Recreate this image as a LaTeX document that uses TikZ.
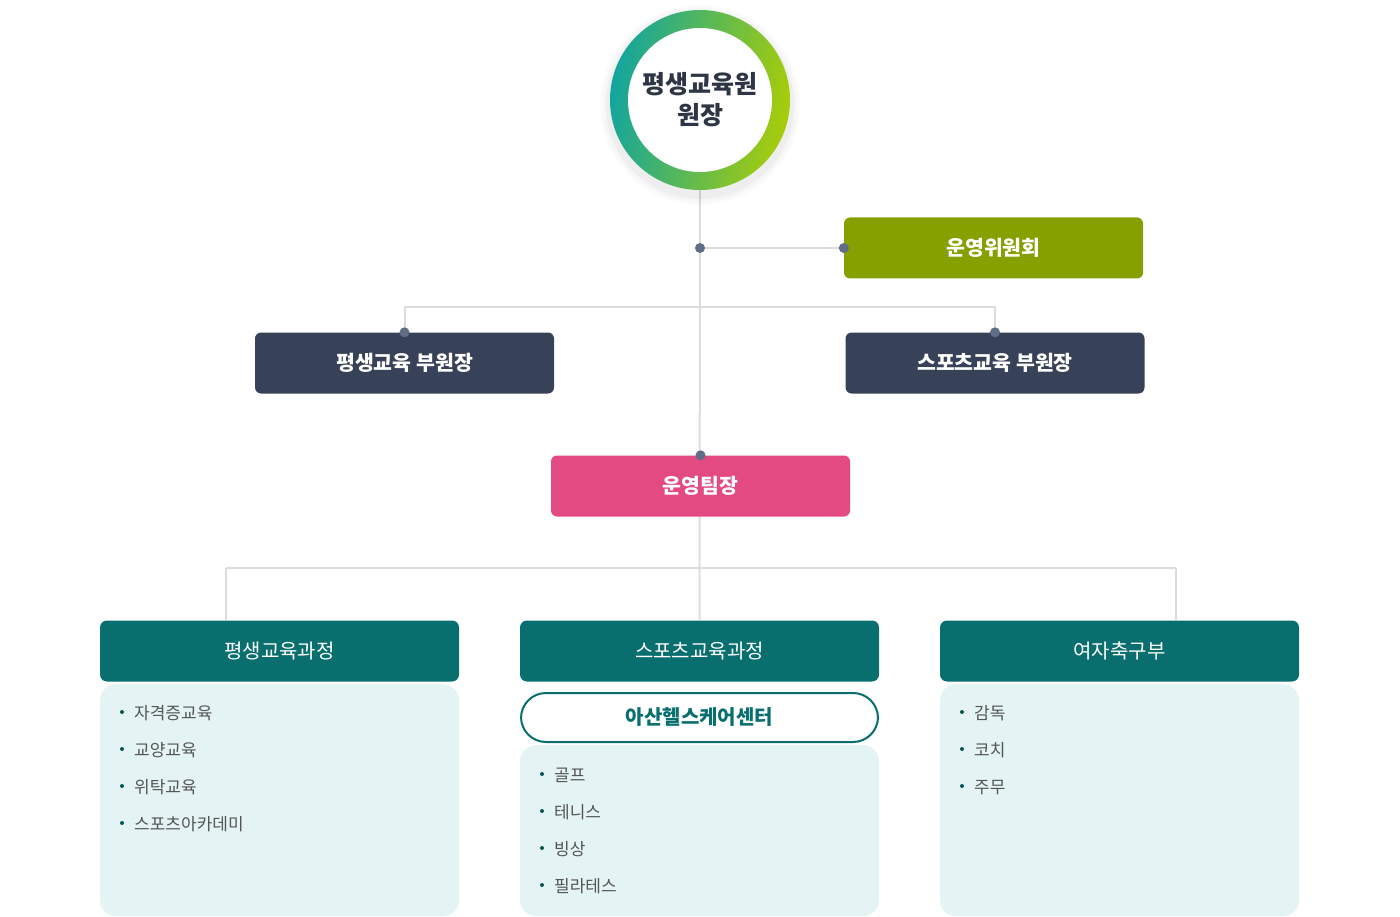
\documentclass[tikz,border=0pt]{standalone}
\usepackage{fontspec}
\setmainfont{Noto Sans CJK KR}
\usetikzlibrary{positioning,backgrounds}

\definecolor{ringteal}{HTML}{12A59E}
\definecolor{ringlime}{HTML}{A9CD08}
\definecolor{linegray}{HTML}{DCDCDC}
\definecolor{dotgray}{HTML}{5F6E86}
\definecolor{councilgreen}{HTML}{86A000}
\definecolor{vicenavy}{HTML}{374157}
\definecolor{leadpink}{HTML}{E44A82}
\definecolor{courseteal}{HTML}{086E6E}
\definecolor{listpale}{HTML}{E4F3F3}
\definecolor{itemgray}{HTML}{555555}
\definecolor{chieftext}{HTML}{2E3545}

\tikzset{
  conn/.style={draw=linegray, line width=2pt},
  jdot/.style={fill=dotgray},
  rolebox/.style={rectangle, rounded corners=6pt, minimum width=299pt, minimum height=61pt,
    inner sep=0pt, text=white, font=\bfseries\fontsize{20.5}{24}\selectfont},
  coursebox/.style={rectangle, rounded corners=7pt, minimum width=359pt, minimum height=61pt,
    inner sep=0pt, fill=courseteal, text=white, font=\fontsize{20}{24}\selectfont},
  listbox/.style={rectangle, rounded corners=16pt, fill=listpale, minimum width=359pt,
    inner sep=0pt, anchor=north},
  itemtxt/.style={anchor=west, inner sep=0pt, text=itemgray, font=\fontsize{17}{20}\selectfont},
  bullet/.style={fill=courseteal!80!black}
}

\begin{document}
\begin{tikzpicture}[x=1pt,y=-1pt]
\useasboundingbox (0,0) rectangle (1400,917);

% soft shadow under the top circle
\foreach \r/\o in {100/0.015,97/0.02,94/0.03}
  \fill[black,opacity=\o] (700,105) circle (\r);

% top: head of the institute
\node[circle, minimum size=180pt, inner sep=0pt, left color=ringteal, right color=ringlime,
  shading angle=80] (ring) at (700,100) {};
\node[circle, fill=white, minimum size=144pt, inner sep=0pt, align=center, text=chieftext,
  font=\bfseries\fontsize{25}{31}\selectfont] (chief) at (ring.center) {평생교육원\\원장};

% boxes
\node[rolebox, fill=councilgreen] (council) at (993.5,248) {운영위원회};
\node[rolebox, fill=vicenavy] (vice1) at (404.5,363) {평생교육 부원장};
\node[rolebox, fill=vicenavy] (vice2) at (995,363) {스포츠교육 부원장};
\node[rolebox, fill=leadpink] (lead) at (700.5,486) {운영팀장};

\node[coursebox] (course1) at (279.5,651) {평생교육과정};
\node[coursebox] (course2) at (699.5,651) {스포츠교육과정};
\node[coursebox] (course3) at (1119.5,651) {여자축구부};

\node[listbox, minimum height=232pt] (list1) at (279.5,684) {};
\node[rectangle, rounded corners=25pt, draw=courseteal, line width=2pt, fill=white,
  minimum width=357pt, minimum height=49pt, inner sep=0pt, text=courseteal,
  font=\bfseries\fontsize{20}{24}\selectfont] (center) at (699.5,717.5) {아산헬스케어센터};
\node[listbox, minimum height=171pt] (list2) at (699.5,745) {};
\node[listbox, minimum height=232pt] (list3) at (1119.5,684) {};

% connectors
\coordinate (j1) at (700,248);
\coordinate (bar1) at (700,307);
\coordinate (bl) at (226,568);
\coordinate (br) at (1176,568);
\begin{scope}[on background layer]
\draw[conn] (ring.south) -- (course2.north);
\draw[conn] (j1) -- (council.west);
\draw[conn] (vice1.north) |- (bar1) -| (vice2.north);
\draw[conn] (bl) -- (br);
\draw[conn] (bl) -- (bl |- course1.north);
\draw[conn] (br) -- (br |- course3.north);
\end{scope}

\fill[jdot] (j1) circle (5pt);
\fill[jdot] (council.west) circle (5pt);
\fill[jdot] (vice1.north) circle (5pt);
\fill[jdot] (vice2.north) circle (5pt);
\fill[jdot] (lead.north) circle (5pt);

% lists
\foreach \t [count=\i] in {자격증교육,교양교육,위탁교육,스포츠아카데미} {
  \fill[bullet] (122,675+37*\i) circle (2pt);
  \node[itemtxt] (a\i) at (134,676.5+37*\i) {\t};
}
\foreach \t [count=\i] in {골프,테니스,빙상,필라테스} {
  \fill[bullet] (542,737+37*\i) circle (2pt);
  \node[itemtxt] (b\i) at (554,738.5+37*\i) {\t};
}
\foreach \t [count=\i] in {감독,코치,주무} {
  \fill[bullet] (962,675+37*\i) circle (2pt);
  \node[itemtxt] (c\i) at (974,676.5+37*\i) {\t};
}
\end{tikzpicture}
\end{document}
